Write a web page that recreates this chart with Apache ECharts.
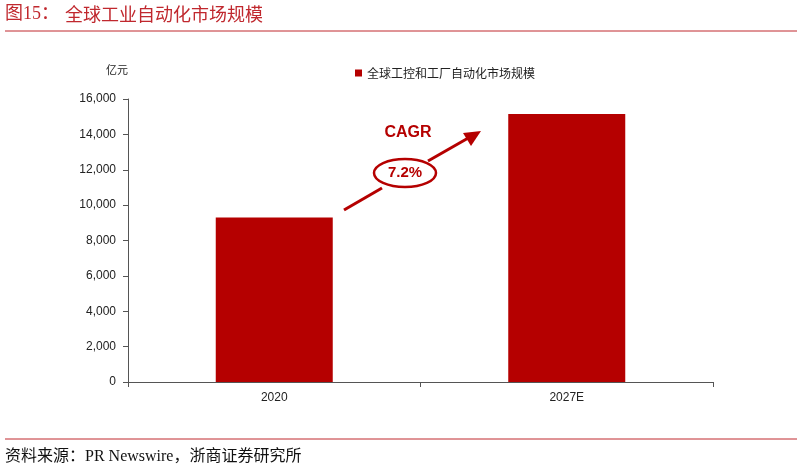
<!DOCTYPE html>
<html><head><meta charset="utf-8">
<script src="https://cdn.jsdelivr.net/npm/echarts@6/dist/echarts.min.js"></script>
<style>html,body{margin:0;padding:0;background:#fff}#c{width:802px;height:471px}</style>
</head><body><div id="c"></div>
<script>
const categories = ['2020', '2027E'];
const seriesName = '全球工控和工厂自动化市场规模';
const values = [9300, 15150];
const yTicks = { min: 0, max: 16000, interval: 2000 };
const cagrLabel = '7.2%';

const red = '#B50000';
const chart = echarts.init(document.getElementById('c'));
chart.setOption({
  animation: false,
  backgroundColor: '#fff',
  grid: { left: 128, right: 89, top: 99, bottom: 89 },
  legend: {
    data: [seriesName], left: 350, top: 62, itemWidth: 7, itemHeight: 7, itemGap: 4,
    icon: 'rect',
    textStyle: { fontSize: 12, color: '#222', fontFamily: 'Noto Sans CJK SC' }
  },
  xAxis: {
    type: 'category', data: categories,
    axisLine: { lineStyle: { color: '#555' } },
    axisTick: { show: true, alignWithLabel: false, length: 5, lineStyle: { color: '#555' } },
    axisLabel: { fontSize: 12, color: '#222', fontFamily: 'Liberation Sans', margin: 10 }
  },
  yAxis: {
    type: 'value', min: yTicks.min, max: yTicks.max, interval: yTicks.interval,
    name: '亿元', nameLocation: 'end', nameGap: 24,
    nameTextStyle: { fontSize: 11, color: '#222', fontFamily: 'Noto Sans CJK SC', align: 'center', padding: [0, 22, 0, 0] },
    axisLine: { show: true, lineStyle: { color: '#555' } },
    axisTick: { show: true, length: 5, inside: false, lineStyle: { color: '#555' } },
    splitLine: { show: false },
    axisLabel: {
      fontSize: 12, color: '#222', fontFamily: 'Liberation Sans', margin: 12,
      formatter: v => v.toLocaleString('en-US')
    }
  },
  series: [{
    name: seriesName, type: 'bar', data: values, barWidth: '40%',
    itemStyle: { color: red }
  }],
  graphic: [
    { type: 'text', left: 5, top: 5, style: { text: '图15：', fontSize: 18, fill: '#C0282E', fontFamily: 'Liberation Serif, Noto Sans CJK SC' } },
    { type: 'text', left: 65, top: 5, style: { text: '全球工业自动化市场规模', fontSize: 18, fill: '#C0282E', fontFamily: 'Noto Sans CJK SC', fontWeight: 'normal' } },
    { type: 'line', shape: { x1: 5, y1: 31, x2: 797, y2: 31 }, style: { stroke: '#C0282E', lineWidth: 1 } },
    { type: 'line', shape: { x1: 5, y1: 439, x2: 797, y2: 439 }, style: { stroke: '#C0282E', lineWidth: 1 } },
    { type: 'text', left: 5, top: 449, style: { text: '资料来源：PR Newswire，浙商证券研究所', fontSize: 16, fill: '#111', fontFamily: 'Liberation Serif, Noto Sans CJK SC' } },
    // CAGR annotation
    { type: 'line', shape: { x1: 344, y1: 210, x2: 382, y2: 188 }, style: { stroke: red, lineWidth: 3 } },
    { type: 'line', shape: { x1: 428, y1: 161, x2: 470, y2: 137 }, style: { stroke: red, lineWidth: 3 } },
    { type: 'polygon', shape: { points: [[481, 131], [463, 133], [471, 146]] }, style: { fill: red } },
    { type: 'ellipse', shape: { cx: 405, cy: 173, rx: 31, ry: 14 }, style: { fill: '#fff', stroke: red, lineWidth: 2.5 } },
    { type: 'text', x: 405, y: 173, style: { text: cagrLabel, fontSize: 15, fontWeight: 'bold', fill: red, fontFamily: 'Liberation Sans', align: 'center', verticalAlign: 'middle' } },
    { type: 'text', x: 408, y: 133, style: { text: 'CAGR', fontSize: 16, fontWeight: 'bold', fill: red, fontFamily: 'Liberation Sans', align: 'center', verticalAlign: 'middle' } }
  ]
});
</script></body></html>
